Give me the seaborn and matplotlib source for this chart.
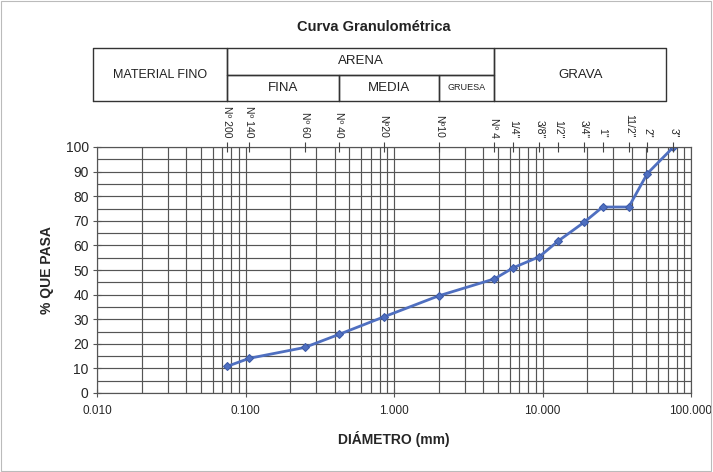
import matplotlib
matplotlib.use("Agg")
import matplotlib.pyplot as plt
import matplotlib.transforms as mtransforms
from matplotlib.ticker import LogLocator, FixedLocator, FixedFormatter, MultipleLocator
import seaborn as sns
import pandas as pd

# Sieve openings (mm) and their names
sieve_names = ["Nº 200", "Nº 140", "Nº 60", "Nº 40", "Nº20", "Nº10", "Nº 4",
               "1/4\"", "3/8\"", "1/2\"", "3/4\"", "1\"", "11/2\"", "2\"", "3\""]
sieve_mm = [0.075, 0.106, 0.25, 0.425, 0.85, 2.0, 4.75,
            6.35, 9.525, 12.7, 19.05, 25.4, 38.1, 50.8, 76.2]
# Cumulative percent passing each sieve
pct_passing = [10.8, 14.1, 18.5, 23.8, 30.9, 39.5, 46.4,
               50.9, 55.4, 61.7, 69.4, 75.6, 75.6, 89.2, 100.0]

x_ticks = [0.01, 0.1, 1, 10, 100]
x_tick_labels = ["0.010", "0.100", "1.000", "10.000", "100.000"]

# Soil-fraction header: boundaries in mm
fino_edges = [0.0094, 0.075]
arena_edges = [0.075, 4.75]
arena_sub = [("FINA", 0.075, 0.425), ("MEDIA", 0.425, 2.0), ("GRUESA", 2.0, 4.75)]
grava_edges = [4.75, 68.0]

df = pd.DataFrame({"diametro": sieve_mm, "pasa": pct_passing})

sns.set_theme(style="white")
plt.rcParams["font.family"] = ["Liberation Sans", "DejaVu Sans"]

fig = plt.figure(figsize=(7.13, 4.72), dpi=100)
ax = fig.add_axes([97 / 713, 79 / 472, 594 / 713, 246 / 472])

sns.lineplot(data=df, x="diametro", y="pasa", ax=ax, color="#4f6fc0",
             linewidth=2.0, marker="D", markersize=4, markeredgecolor="#3c5aa8")

ax.set_xscale("log")
ax.set_xlim(0.01, 100)
ax.set_ylim(0, 100)

# grid: every log minor and every 5 %
ax.xaxis.set_major_locator(FixedLocator(x_ticks))
ax.xaxis.set_major_formatter(FixedFormatter(x_tick_labels))
ax.xaxis.set_minor_locator(LogLocator(base=10, subs=range(2, 10)))
ax.yaxis.set_major_locator(MultipleLocator(10))
ax.yaxis.set_minor_locator(MultipleLocator(5))
ax.grid(True, which="both", color="#555555", linewidth=0.85)
ax.set_axisbelow(True)
for s in ax.spines.values():
    s.set_color("#555555")
    s.set_linewidth(0.85)

ax.tick_params(axis="x", which="major", direction="inout", length=6, width=0.8,
               color="#555555", labelsize=8.5, pad=6, bottom=True)
ax.tick_params(axis="x", which="minor", length=0, labelbottom=False)
ax.tick_params(axis="y", which="major", direction="inout", length=6, width=0.8,
               color="#555555", labelsize=10, pad=3, left=True)
ax.tick_params(axis="y", which="minor", length=0)

ax.set_xlabel("DIÁMETRO (mm)", fontsize=10, fontweight="bold", labelpad=10)
ax.set_ylabel("% QUE PASA", fontsize=10, fontweight="bold", labelpad=8)

# Sieve names along the top
top = ax.twiny()
top.set_xscale("log")
top.set_xlim(ax.get_xlim())
top.set_xticks(sieve_mm)
top.set_xticklabels(sieve_names, rotation=-90, fontsize=7.5)
top.xaxis.set_minor_locator(FixedLocator([]))
top.tick_params(axis="x", direction="inout", length=7, width=0.8, color="#444444", pad=3)
for s in top.spines.values():
    s.set_visible(False)
top.grid(False)

# Header table with the soil fractions
tr = mtransforms.blended_transform_factory(ax.transData, fig.transFigure)
y_top, y_mid, y_bot = 1 - 48 / 472, 1 - 75 / 472, 1 - 101 / 472
line_kw = dict(transform=tr, color="#333333", linewidth=1.0, clip_on=False)

def box(x0, x1, y0, y1):
    ax.plot([x0, x1, x1, x0, x0], [y0, y0, y1, y1, y0], **line_kw)

def gmean(a, b):
    return (a * b) ** 0.5

box(fino_edges[0], fino_edges[1], y_bot, y_top)
box(arena_edges[0], arena_edges[1], y_mid, y_top)
for name, a, b in arena_sub:
    box(a, b, y_bot, y_mid)
box(grava_edges[0], grava_edges[1], y_bot, y_top)

txt_kw = dict(transform=tr, ha="center", va="center", color="#222222")
ax.text(gmean(*fino_edges), (y_top + y_bot) / 2, "MATERIAL FINO", fontsize=9, **txt_kw)
ax.text(gmean(*arena_edges), (y_top + y_mid) / 2, "ARENA", fontsize=9.5, **txt_kw)
for name, a, b in arena_sub:
    ax.text(gmean(a, b), (y_mid + y_bot) / 2, name,
            fontsize=6.5 if name == "GRUESA" else 9.5, **txt_kw)
ax.text(gmean(*grava_edges), (y_top + y_bot) / 2, "GRAVA", fontsize=9.5, **txt_kw)

fig.text(374 / 713, 1 - 27 / 472, "Curva Granulométrica", ha="center", va="center",
         fontsize=10.5, fontweight="bold", color="#222222")

# thin frame around the figure
fig.add_artist(plt.Rectangle((0.002, 0.003), 0.995, 0.994, transform=fig.transFigure,
                             fill=False, edgecolor="#bbbbbb", linewidth=0.8))

fig.savefig("out.png", dpi=100)
